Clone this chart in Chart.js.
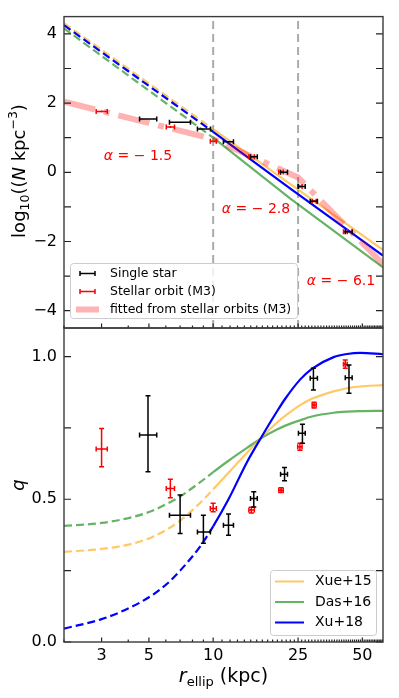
<!DOCTYPE html>
<html>
<head>
<meta charset="utf-8">
<script src="https://cdn.jsdelivr.net/npm/chart.js@4.4.0/dist/chart.umd.min.js"></script>
<style>
  html, body { margin: 0; padding: 0; background: #fff; }
  #wrap { position: relative; width: 399px; height: 698px; }
  #wrap canvas { position: absolute; left: 0; top: 0; }
</style>
</head>
<body>
<div id="wrap">
  <canvas id="density" width="399" height="698"></canvas>
  <canvas id="flattening" width="399" height="698"></canvas>
</div>
<script>
// ---- axis ticks ----
const xMajorTicks = [3, 5, 10, 25, 50];
const xMinorTicks = Array.from({ length: 61 }, (_, i) => i + 2).filter(v => !xMajorTicks.includes(v));
const densityTicks = [-4, -2, 0, 2, 4];
const densityMinorTicks = [-3, -1, 1, 3];
const qTicks = [0, 0.5, 1.0];
const qMinorTicks = [0.25, 0.75];
const breakRadii = [10, 25];

// ---- single stars (black) ----
const starR = [4.95, 7.0, 9.0, 11.8, 15.5, 21.6, 26.2, 29.5, 43.3];
const starRLo = [4.52, 6.24, 8.44, 11.17, 14.96, 20.7, 25.1, 28.5, 41.6];
const starRHi = [5.44, 7.83, 9.71, 12.45, 16.1, 22.3, 27.0, 30.8, 44.8];
const starDensity = [1.54, 1.45, 1.25, 0.88, 0.45, 0.0, -0.41, -0.84, -1.72];
const starQ = [0.725, 0.444, 0.385, 0.409, 0.503, 0.588, 0.731, 0.924, 0.926];
const starQLo = [0.596, 0.380, 0.346, 0.374, 0.473, 0.565, 0.696, 0.883, 0.871];
const starQHi = [0.863, 0.515, 0.444, 0.448, 0.526, 0.611, 0.763, 0.959, 0.970];

// ---- stellar orbits M3 (red) ----
const orbitR = [3.0, 6.3, 10.0, 15.1, 20.8, 25.5, 29.7, 41.6];
const orbitRLo = [2.83, 6.03, 9.7, 14.7, 20.3, 24.9, 29.1, 40.8];
const orbitRHi = [3.19, 6.59, 10.35, 15.6, 21.3, 26.1, 30.4, 42.5];
const orbitDensity = [1.76, 1.31, 0.90, 0.45, 0.01, -0.41, -0.84, -1.72];
const orbitQ = [0.676, 0.538, 0.468, 0.462, 0.532, 0.684, 0.830, 0.973];
const orbitQLo = [0.614, 0.505, 0.456, 0.452, 0.524, 0.672, 0.820, 0.959];
const orbitQHi = [0.748, 0.570, 0.486, 0.472, 0.540, 0.696, 0.840, 0.988];

// ---- broken power law fitted from orbits ----
const fitR = [2, 10, 25, 62.5];
const fitDensity = [2.04, 0.96, -0.15, -2.65];
const slopeLabels = ["1.5", "2.8", "6.1"];

// ---- literature density profiles ----
const modelR = [2, 10, 23, 62.5];
const xueDensity = [4.31, 1.25, -0.34, -2.24];
const dasDensity = [4.16, 1.00, -0.76, -2.75];
const xuDensity = [4.25, 1.17, -0.47, -2.41];

// ---- literature flattening q(r) ----
const qModelR = [2, 3, 4.2, 5.2, 6.1, 7, 8.7, 10, 11.8, 14.4, 16.9, 20, 21.8, 25.6, 29, 36.7, 42.4, 48.9, 62.5];
const xueQ = [0.316, 0.326, 0.345, 0.368, 0.395, 0.425, 0.488, 0.535, 0.593, 0.663, 0.718, 0.77, 0.793, 0.83, 0.852, 0.878, 0.889, 0.895, 0.90];
const dasQ = [0.407, 0.417, 0.438, 0.46, 0.485, 0.51, 0.56, 0.595, 0.635, 0.68, 0.715, 0.745, 0.758, 0.777, 0.79, 0.803, 0.807, 0.809, 0.81];
const xuQ = [0.047, 0.08, 0.125, 0.165, 0.205, 0.25, 0.335, 0.405, 0.5, 0.63, 0.72, 0.81, 0.853, 0.92, 0.957, 0.998, 1.009, 1.013, 1.008];

const topLegendLabels = ["Single star", "Stellar orbit (M3)", "fitted from stellar orbits (M3)"];
const bottomLegendLabels = ["Xue+15", "Das+16", "Xu+18"];

const FONT = "DejaVu Sans";
const ORANGE = "rgba(255,165,0,0.6)";
const GREEN = "rgba(0,128,0,0.6)";
const BLUE = "#0000ff";
const PINK = "rgba(255,0,0,0.3)";

Chart.defaults.font.family = FONT;
Chart.defaults.color = "#000";

const pts = (xs, ys) => xs.map((x, i) => ({ x: x, y: ys[i] }));
const dashInner = c => (c.p1.parsed.x <= 10 ? [8, 4] : undefined);

function drawRich(ctx, runs, x, y) {
    // runs: [text, font, dy], drawn centred on x
    let w = 0;
    runs.forEach(r => { ctx.font = r[1]; w += ctx.measureText(r[0]).width; });
    let cx = x - w / 2;
    ctx.textAlign = "left";
    ctx.textBaseline = "alphabetic";
    runs.forEach(r => {
        ctx.font = r[1];
        ctx.fillText(r[0], cx, y + (r[2] || 0));
        cx += ctx.measureText(r[0]).width;
    });
}

function legendBox(ctx, x, y, w, h) {
    ctx.beginPath();
    if (ctx.roundRect) ctx.roundRect(x, y, w, h, 3); else ctx.rect(x, y, w, h);
    ctx.fillStyle = "rgba(255,255,255,0.8)";
    ctx.fill();
    ctx.strokeStyle = "#cccccc";
    ctx.lineWidth = 1;
    ctx.stroke();
}

function errHandle(ctx, color, x0, x1, y) {
    ctx.strokeStyle = color;
    ctx.lineWidth = 1.5;
    ctx.beginPath();
    ctx.moveTo(x0, y); ctx.lineTo(x1, y);
    ctx.moveTo(x0, y - 2.5); ctx.lineTo(x0, y + 2.5);
    ctx.moveTo(x1, y - 2.5); ctx.lineTo(x1, y + 2.5);
    ctx.stroke();
}

// error bars + frame with inward ticks
function makeFramePlugin(cfg) {
    return {
        id: "frame",
        afterDatasetsDraw(chart) {
            const { ctx, scales: { x, y } } = chart;
            chart.data.datasets.forEach(ds => {
                const e = ds.errorBars;
                if (!e) return;
                ctx.save();
                ctx.strokeStyle = ds.borderColor;
                ctx.lineWidth = 1.5;
                ds.data.forEach((p, i) => {
                    const px = x.getPixelForValue(p.x);
                    const py = y.getPixelForValue(p.y);
                    const cap = 2.5;
                    ctx.beginPath();
                    if (e.xLo) {
                        const x0 = x.getPixelForValue(e.xLo[i]);
                        const x1 = x.getPixelForValue(e.xHi[i]);
                        ctx.moveTo(x0, py); ctx.lineTo(x1, py);
                        ctx.moveTo(x0, py - cap); ctx.lineTo(x0, py + cap);
                        ctx.moveTo(x1, py - cap); ctx.lineTo(x1, py + cap);
                    }
                    if (e.yLo) {
                        const y0 = y.getPixelForValue(e.yLo[i]);
                        const y1 = y.getPixelForValue(e.yHi[i]);
                        ctx.moveTo(px, y0); ctx.lineTo(px, y1);
                        ctx.moveTo(px - cap, y0); ctx.lineTo(px + cap, y0);
                        ctx.moveTo(px - cap, y1); ctx.lineTo(px + cap, y1);
                    }
                    ctx.stroke();
                });
                ctx.restore();
            });
        },
        afterDraw(chart) {
            const { ctx, chartArea: a, scales: { x, y } } = chart;
            ctx.save();
            ctx.strokeStyle = "#222";
            ctx.lineWidth = 1.2;
            ctx.beginPath();
            cfg.yTicks.forEach(v => {
                const py = y.getPixelForValue(v);
                ctx.moveTo(a.left, py); ctx.lineTo(a.left + 7, py);
                ctx.moveTo(a.right, py); ctx.lineTo(a.right - 7, py);
            });
            xMajorTicks.forEach(v => {
                const px = x.getPixelForValue(v);
                ctx.moveTo(px, a.bottom); ctx.lineTo(px, a.bottom - 4.5);
            });
            xMinorTicks.forEach(v => {
                const px = x.getPixelForValue(v);
                ctx.moveTo(px, a.bottom); ctx.lineTo(px, a.bottom - 2.5);
            });
            ctx.stroke();
            ctx.strokeStyle = "#3a3a3a";
            ctx.lineWidth = 1.4;
            ctx.strokeRect(a.left, a.top, a.right - a.left, a.bottom - a.top);
            ctx.fillStyle = "#000";
            cfg.extra(ctx, chart);
            ctx.restore();
        }
    };
}

const xScale = (showLabels) => ({
    type: "logarithmic",
    min: 2,
    max: 62.5,
    display: showLabels,
    grid: { display: false, drawTicks: false },
    border: { display: false },
    afterBuildTicks: s => { s.ticks = xMajorTicks.map(v => ({ value: v })); },
    afterFit: s => { s.height = showLabels ? 56 : 0; },
    ticks: {
        autoSkip: false,
        maxRotation: 0,
        padding: 4,
        font: { size: 16 },
        callback: v => String(v)
    }
});

// ---------------- top panel: density ----------------
new Chart(document.getElementById("density"), {
    type: "scatter",
    data: {
        datasets: [
            { data: pts(fitR, fitDensity), showLine: true, borderColor: PINK, borderWidth: 6,
              borderDash: [32, 9, 6, 9], pointRadius: 0 },
            { data: pts(modelR, xuDensity), showLine: true, borderColor: BLUE, borderWidth: 2.2,
              pointRadius: 0, segment: { borderDash: dashInner } },
            { data: pts(modelR, xueDensity), showLine: true, borderColor: ORANGE, borderWidth: 2.2,
              pointRadius: 0, segment: { borderDash: dashInner } },
            { data: pts(modelR, dasDensity), showLine: true, borderColor: GREEN, borderWidth: 2.2,
              pointRadius: 0, segment: { borderDash: dashInner } },
            { data: pts([breakRadii[0], breakRadii[0]], [-4.5, 4.5]), showLine: true, borderColor: "#ababab",
              borderWidth: 2, borderDash: [8, 5], pointRadius: 0 },
            { data: pts([breakRadii[1], breakRadii[1]], [-4.5, 4.5]), showLine: true, borderColor: "#ababab",
              borderWidth: 2, borderDash: [8, 5], pointRadius: 0 },
            { data: pts(orbitR, orbitDensity), borderColor: "#ff0000", backgroundColor: "#ff0000",
              pointStyle: "rect", pointRadius: 1.3, pointBorderWidth: 0,
              errorBars: { xLo: orbitRLo, xHi: orbitRHi } },
            { data: pts(starR, starDensity), borderColor: "#000000", pointRadius: 0,
              errorBars: { xLo: starRLo, xHi: starRHi } }
        ]
    },
    options: {
        responsive: false,
        animation: false,
        devicePixelRatio: 1,
        layout: { padding: { left: 0, right: 16, top: 14, bottom: 370 } },
        plugins: { legend: { display: false }, tooltip: { enabled: false } },
        scales: {
            x: xScale(false),
            y: {
                type: "linear",
                min: -4.5,
                max: 4.5,
                grid: { display: false, drawTicks: false },
                border: { display: false },
                afterBuildTicks: s => { s.ticks = densityTicks.map(v => ({ value: v })); },
                afterFit: s => { s.width = 64; },
                ticks: {
                    padding: 7,
                    font: { size: 16 },
                    callback: v => (v < 0 ? "\u2212" + Math.abs(v) : String(v))
                }
            }
        }
    },
    plugins: [makeFramePlugin({
        yTicks: densityTicks.concat(densityMinorTicks),
        extra(ctx) {
            // slope annotations
            ctx.fillStyle = "#ff0000";
            const pos = [[138, 159.5], [256, 212.5], [341, 285]];
            slopeLabels.forEach((s, i) => {
                drawRich(ctx, [["\u03b1", "italic 14px " + FONT], [" = \u2212 " + s, "14px " + FONT]], pos[i][0], pos[i][1]);
            });
            // y label
            ctx.fillStyle = "#000";
            ctx.save();
            ctx.translate(25, 171);
            ctx.rotate(-Math.PI / 2);
            drawRich(ctx, [
                ["log", "18px " + FONT],
                ["10", "12.5px " + FONT, 4],
                ["((", "18px " + FONT],
                ["N", "italic 18px " + FONT],
                [" kpc", "18px " + FONT],
                ["\u22123", "12.5px " + FONT, -8],
                [")", "18px " + FONT]
            ], 0, 0);
            ctx.restore();
            // legend
            legendBox(ctx, 70.5, 263.5, 227, 55);
            errHandle(ctx, "#000", 80, 95, 273.5);
            errHandle(ctx, "#ff0000", 80, 95, 291.5);
            ctx.strokeStyle = PINK;
            ctx.lineWidth = 6;
            ctx.beginPath(); ctx.moveTo(76, 309.5); ctx.lineTo(99, 309.5); ctx.stroke();
            ctx.fillStyle = "#000";
            ctx.font = "12.5px " + FONT;
            ctx.textAlign = "left";
            ctx.textBaseline = "middle";
            [273.5, 291.5, 309.5].forEach((yy, i) => ctx.fillText(topLegendLabels[i], 110, yy));
        }
    })]
});

// ---------------- bottom panel: flattening ----------------
new Chart(document.getElementById("flattening"), {
    type: "scatter",
    data: {
        datasets: [
            { data: pts(qModelR, xuQ), showLine: true, borderColor: BLUE, borderWidth: 2.2,
              pointRadius: 0, cubicInterpolationMode: "monotone", segment: { borderDash: dashInner } },
            { data: pts(qModelR, xueQ), showLine: true, borderColor: ORANGE, borderWidth: 2.2,
              pointRadius: 0, cubicInterpolationMode: "monotone", segment: { borderDash: dashInner } },
            { data: pts(qModelR, dasQ), showLine: true, borderColor: GREEN, borderWidth: 2.2,
              pointRadius: 0, cubicInterpolationMode: "monotone", segment: { borderDash: dashInner } },
            { data: pts(orbitR, orbitQ), borderColor: "#ff0000", backgroundColor: "#ff0000",
              pointStyle: "rect", pointRadius: 1.2, pointBorderWidth: 0,
              errorBars: { xLo: orbitRLo, xHi: orbitRHi, yLo: orbitQLo, yHi: orbitQHi } },
            { data: pts(starR, starQ), borderColor: "#000000", pointRadius: 0,
              errorBars: { xLo: starRLo, xHi: starRHi, yLo: starQLo, yHi: starQHi } }
        ]
    },
    options: {
        responsive: false,
        animation: false,
        devicePixelRatio: 1,
        layout: { padding: { left: 0, right: 16, top: 328, bottom: 0 } },
        plugins: { legend: { display: false }, tooltip: { enabled: false } },
        scales: {
            x: xScale(true),
            y: {
                type: "linear",
                min: 0,
                max: 1.1,
                grid: { display: false, drawTicks: false },
                border: { display: false },
                afterBuildTicks: s => { s.ticks = qTicks.map(v => ({ value: v })); },
                afterFit: s => { s.width = 64; },
                ticks: {
                    padding: 7,
                    font: { size: 16 },
                    callback: v => v.toFixed(1)
                }
            }
        }
    },
    plugins: [makeFramePlugin({
        yTicks: qTicks.concat(qMinorTicks),
        extra(ctx) {
            // axis labels
            drawRich(ctx, [
                ["r", "italic 19px " + FONT],
                ["ellip", "13px " + FONT, 4],
                [" (kpc)", "19px " + FONT]
            ], 223.5, 682);
            ctx.save();
            ctx.translate(24, 485);
            ctx.rotate(-Math.PI / 2);
            drawRich(ctx, [["q", "italic 18px " + FONT]], 0, 0);
            ctx.restore();
            // legend
            legendBox(ctx, 270.5, 570.5, 106, 65);
            const rows = [581.5, 602, 622.5];
            [ORANGE, GREEN, BLUE].forEach((c, i) => {
                ctx.strokeStyle = c;
                ctx.lineWidth = 2;
                ctx.beginPath(); ctx.moveTo(275, rows[i]); ctx.lineTo(304, rows[i]); ctx.stroke();
            });
            ctx.fillStyle = "#000";
            ctx.font = "14px " + FONT;
            ctx.textAlign = "left";
            ctx.textBaseline = "middle";
            rows.forEach((yy, i) => ctx.fillText(bottomLegendLabels[i], 315, yy));
        }
    })]
});
</script>
</body>
</html>
